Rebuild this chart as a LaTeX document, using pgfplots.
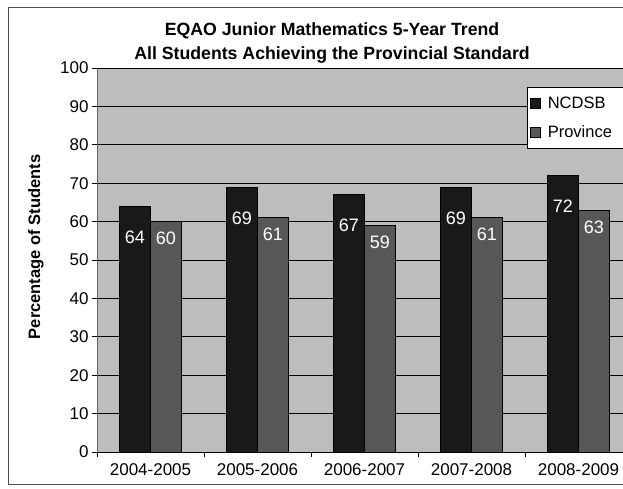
\documentclass[border=0pt]{standalone}
\usepackage{pgfplots}
\pgfplotsset{compat=1.18}
\usepackage{fontspec}
\setmainfont{Liberation Sans}
\definecolor{bgc}{gray}{0.74}
\definecolor{ncd}{gray}{0.10}
\definecolor{prov}{gray}{0.34}
\begin{document}
\begin{tikzpicture}[x=1pt,y=1pt]
\useasboundingbox (0,0) rectangle (623,489);
\clip (0,0) rectangle (623,489);
\fill[white] (0,0) rectangle (623,489);
\draw[black!70, line width=1pt] (8,4) rectangle (660,481);
\begin{axis}[
  at={(97pt,37pt)}, anchor=south west,
  scale only axis, width=526pt, height=384pt,
  xmin=-0.5, xmax=4.416, ymin=0, ymax=100,
  clip=false,
  ybar=0pt, bar width=31pt,
  xtick={0,1,2,3,4},
  xticklabels={2004-2005,2005-2006,2006-2007,2007-2008,2008-2009},
  xtick style={draw=none},
  ytick={0,10,...,100},
  ymajorgrids, grid style={black, line width=0.6pt},
  axis background/.style={fill=bgc},
  axis x line*=bottom, axis y line*=left,
  axis line style={-},
  x axis line style={black, line width=0.8pt},
  y axis line style={black!60, line width=0.6pt},
  ytick style={black, line width=0.6pt},
  tick align=outside, major tick length=5pt,
  /pgf/number format/assume math mode=true,
  tick label style={font=\fontsize{17}{20}\selectfont},
  xticklabel style={yshift=-3pt},
  ylabel={Percentage of Students},
  ylabel style={at={(axis description cs:-0.116,0.534)}, anchor=center, font=\bfseries\fontsize{16.5}{19}\selectfont},
  title={EQAO Junior Mathematics 5-Year Trend\\All Students Achieving the Provincial Standard},
  title style={at={(axis description cs:0.4468,1.05)}, anchor=center, align=center, font=\bfseries\fontsize{17.7}{24}\selectfont},
  legend style={at={(rel axis cs:0.8175,0.9505)}, anchor=north west, draw=black, fill=white,
    font=\fontsize{16.5}{19}\selectfont, row sep=11pt, inner xsep=3pt, inner ysep=8pt,
    /tikz/every odd column/.append style={column sep=5pt}},
  legend cell align=left,
]
\addplot[fill=ncd, draw=black, line width=0.6pt,
  legend image code/.code={\draw[fill=ncd, draw=black] (0pt,-5pt) rectangle (10pt,5pt);},
  nodes near coords, every node near coord/.append style={text=white, font=\fontsize{18}{21}\selectfont, anchor=center, yshift=-31pt}]
  coordinates {(0,64) (1,69) (2,67) (3,69) (4,72)};
\addlegendentry{\makebox[80pt][l]{NCDSB}}
\addplot[fill=prov, draw=black, line width=0.6pt,
  legend image code/.code={\draw[fill=prov, draw=black] (0pt,-5pt) rectangle (10pt,5pt);},
  nodes near coords, every node near coord/.append style={text=white, font=\fontsize{18}{21}\selectfont, anchor=center, yshift=-17pt}]
  coordinates {(0,60) (1,61) (2,59) (3,61) (4,63)};
\addlegendentry{\makebox[80pt][l]{Province}}
\pgfplotsinvokeforeach{-0.5,0.5,1.5,2.5,3.5}{
  \draw[black, line width=0.6pt] (axis cs:#1,0) -- ++(0pt,-5pt);
}
\end{axis}
\end{tikzpicture}
\end{document}
